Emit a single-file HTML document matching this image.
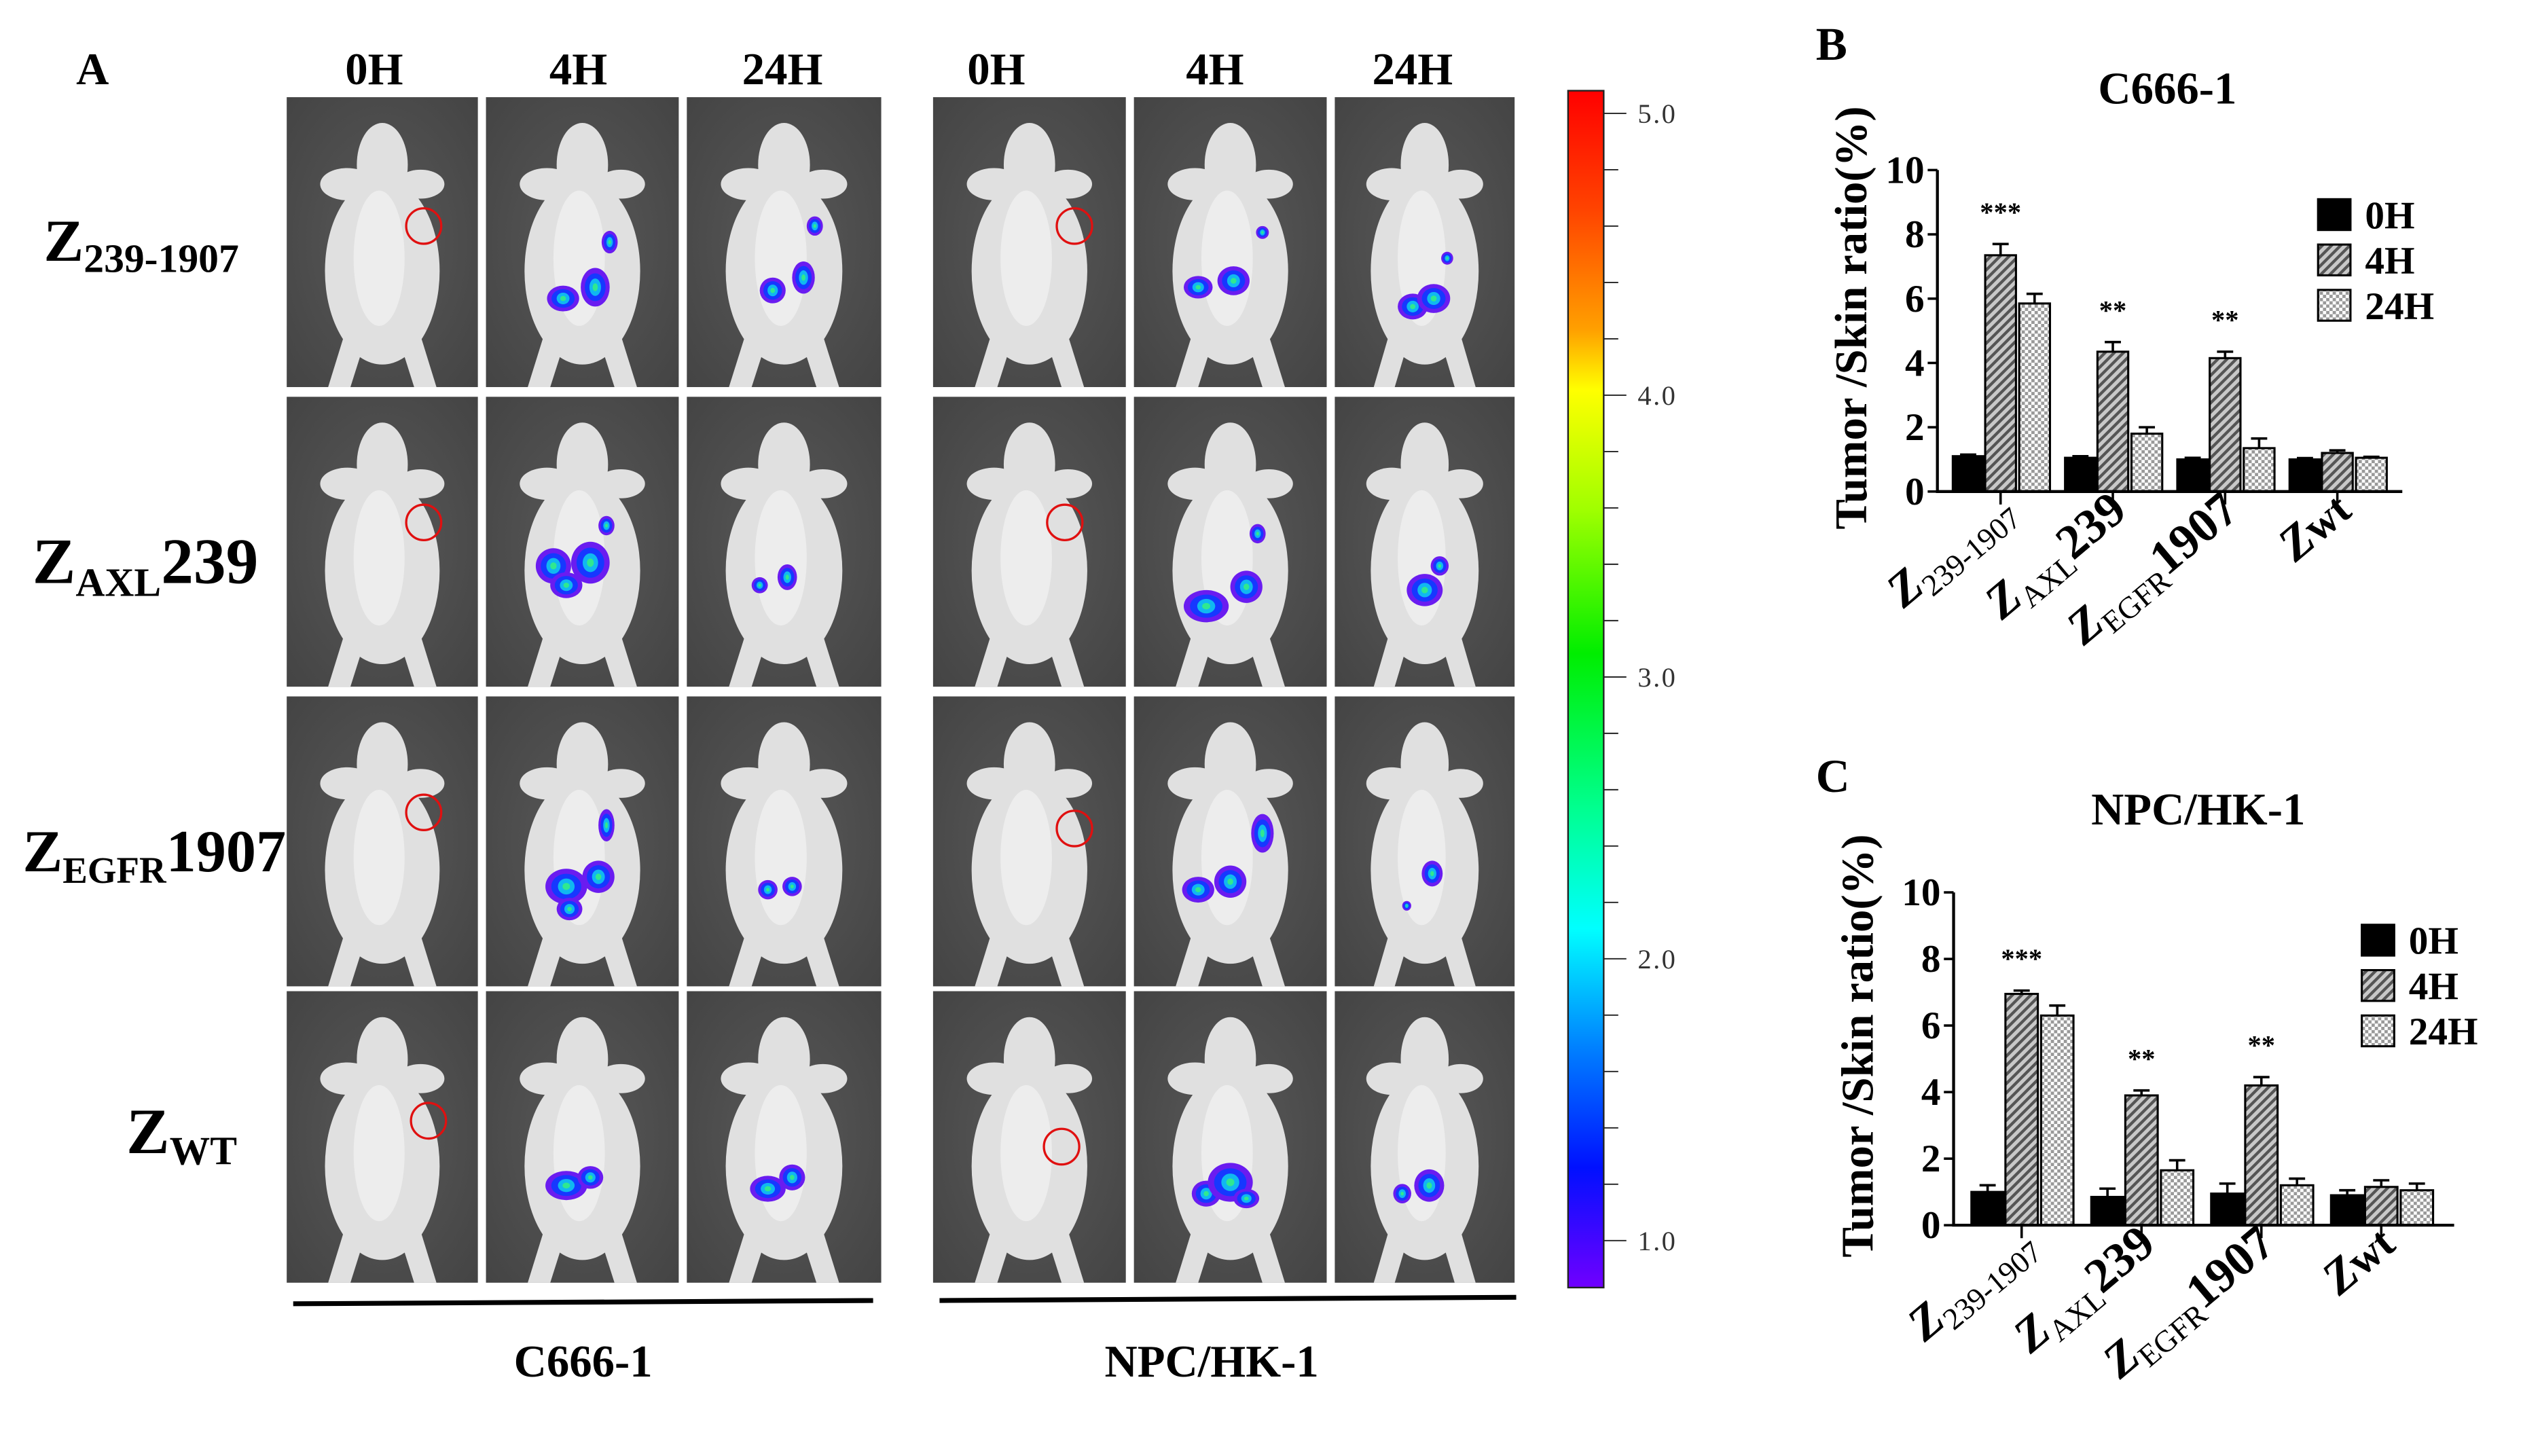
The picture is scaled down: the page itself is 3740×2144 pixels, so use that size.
<!DOCTYPE html>
<html><head><meta charset="utf-8"><style>
html,body{margin:0;padding:0;background:#fff;}
svg{display:block;}
text{font-family:"Liberation Serif",serif;}
</style></head>
<body>
<svg id="fig" xmlns="http://www.w3.org/2000/svg" width="3740" height="2144" viewBox="0 0 1568 899" preserveAspectRatio="none">
<defs>
<linearGradient id="cbar" x1="0" y1="0" x2="0" y2="1">
<stop offset="0" stop-color="#ff0000"/><stop offset="0.1" stop-color="#ff4400"/>
<stop offset="0.2" stop-color="#ffa000"/><stop offset="0.25" stop-color="#ffff00"/>
<stop offset="0.35" stop-color="#a0ff00"/><stop offset="0.47" stop-color="#00ee00"/>
<stop offset="0.6" stop-color="#00ff90"/><stop offset="0.7" stop-color="#00ffff"/>
<stop offset="0.8" stop-color="#0080ff"/><stop offset="0.9" stop-color="#0010ff"/>
<stop offset="1" stop-color="#7000ff"/></linearGradient>
<pattern id="hatch" width="4" height="4" patternUnits="userSpaceOnUse" patternTransform="rotate(45)">
<rect width="4" height="4" fill="#c8c8c8"/><rect width="1.8" height="4" fill="#555"/></pattern>
<pattern id="check" width="4" height="4" patternUnits="userSpaceOnUse">
<rect width="4" height="4" fill="#fff"/><rect width="2" height="2" fill="#999"/><rect x="2" y="2" width="2" height="2" fill="#999"/></pattern>
<radialGradient id="bg" cx="0.5" cy="0.5" r="0.7"><stop offset="0" stop-color="#585858"/><stop offset="1" stop-color="#444"/></radialGradient>
</defs>

<text x="47" y="52" font-size="28" font-weight="bold">A</text>
<g font-size="28" font-weight="bold" text-anchor="middle">
<text x="231" y="52">0H</text><text x="357" y="52">4H</text><text x="483" y="52">24H</text>
<text x="615" y="52">0H</text><text x="750" y="52">4H</text><text x="872" y="52">24H</text>
</g>
<g font-weight="bold">
<text x="27" y="161" font-size="37">Z<tspan font-size="25" dy="7">239-1907</tspan></text>
<text x="20" y="360" font-size="40">Z<tspan font-size="25" dy="8">AXL</tspan><tspan dy="-8">239</tspan></text>
<text x="14" y="538" font-size="37">Z<tspan font-size="23" dy="7">EGFR</tspan><tspan dy="-7">1907</tspan></text>
<text x="78" y="712" font-size="40">Z<tspan font-size="25" dy="7">WT</tspan></text>
</g>
<g id="panels"></g>
<line x1="181" y1="805" x2="539" y2="803" stroke="#000" stroke-width="3"/>
<line x1="580" y1="803" x2="936" y2="801" stroke="#000" stroke-width="3"/>
<text x="360" y="850" font-size="28" font-weight="bold" text-anchor="middle">C666-1</text>
<text x="748" y="850" font-size="28" font-weight="bold" text-anchor="middle">NPC/HK-1</text>

<g>
<rect x="968" y="56" width="22" height="739" fill="url(#cbar)" stroke="#222" stroke-width="1"/>
<g id="cticks"></g>
</g>

<g id="chartB"></g>
<g id="chartC"></g>
</svg>
<script>
// ---- chart data ----
const categories = ["239-1907","AXL239","EGFR1907","wt"];
const seriesNames = ["0H","4H","24H"];
const yTicks = [0,2,4,6,8,10];
const b0H = [1.1,1.05,1.0,1.0];
const b4H = [7.35,4.35,4.15,1.2];
const b24H = [5.85,1.8,1.35,1.05];
const b0Herr = [0.05,0.05,0.05,0.04];
const b4Herr = [0.35,0.3,0.2,0.08];
const b24Herr = [0.3,0.2,0.3,0.03];
const bStars = ["***","**","**",""];
const c0H = [1.0,0.85,0.95,0.9];
const c4H = [6.95,3.9,4.2,1.15];
const c24H = [6.3,1.65,1.2,1.05];
const c0Herr = [0.2,0.25,0.3,0.15];
const c4Herr = [0.1,0.15,0.25,0.2];
const c24Herr = [0.3,0.3,0.2,0.2];
const cStars = ["***","**","**",""];
const colorTicks = [5.0,4.0,3.0,2.0,1.0];

const NS="http://www.w3.org/2000/svg";
function mk(tag,attrs,parent){const e=document.createElementNS(NS,tag);for(const k in attrs)e.setAttribute(k,attrs[k]);if(parent)parent.appendChild(e);return e;}

// ---- colour bar ticks ----
(function(){
  const g=document.getElementById('cticks');
  const yOf=v=>70+(5-v)*(766-70)/4;
  for(let i=0;i<=20;i++){const v=5-i*0.2;const major=i%5===0;
    const l=mk('line',{x1:990,x2:major?1004:999,y1:yOf(v),y2:yOf(v),stroke:'#222','stroke-width':0.8},g);
    
    }
  colorTicks.forEach(v=>{const t=mk('text',{x:1011,y:yOf(v)+6,'font-size':17,fill:'#333','font-family':'Liberation Sans, sans-serif','letter-spacing':'1'},g);
    
    
    t.textContent=v.toFixed(1);});
})();

// ---- imaging panels ----
(function(){
  const g=document.getElementById('panels');
  const cols=[[177,118],[300,119],[424,120],[576,119],[700,119],[824,111]];
  const rows=[[60,179],[245,179],[430,179],[612,180]];
  const circ={"0-0":[86,80],"0-3":[88,80],"1-0":[86,78],"1-3":[82,78],"2-0":[86,72],"2-3":[88,82],"3-0":[89,80],"3-3":[80,96]};
  const blobs={
   "0-1":[[48,125,10,8],[68,118,9,12],[77,90,5,7]],"0-2":[[53,120,8,8],[72,112,7,10],[79,80,5,6]],
   "0-4":[[40,118,9,7],[62,114,10,9],[80,84,4,4]],"0-5":[[52,130,10,8],[66,125,11,9],[75,100,4,4]],
   "1-1":[[42,105,11,11],[65,103,12,13],[75,80,5,6],[50,117,10,8]],"1-2":[[45,117,5,5],[62,112,6,8]],
   "1-4":[[45,130,14,10],[70,118,10,10],[77,85,5,6]],"1-5":[[60,120,12,10],[70,105,6,6]],
   "2-1":[[50,118,13,11],[70,112,10,10],[75,80,5,10],[52,132,8,7]],"2-2":[[50,120,6,6],[65,118,6,6]],
   "2-4":[[40,120,10,8],[60,115,10,10],[80,85,7,12]],"2-5":[[48,130,3,3],[65,110,7,8]],
   "3-1":[[50,120,13,9],[65,115,8,7]],"3-2":[[50,122,11,8],[65,115,8,8]],
   "3-4":[[45,125,9,8],[60,118,14,12],[70,128,8,6]],"3-5":[[45,125,6,6],[63,120,10,10]]};
  rows.forEach((r,ri)=>cols.forEach((c,ci)=>{
    const p=mk('g',{transform:`translate(${c[0]},${r[0]})`},g);
    
    
    mk('rect',{x:0,y:0,width:c[1],height:r[1],fill:'url(#bg)'},p);
    const sx=c[1]/120, sy=r[1]/180;
    const m=mk('g',{transform:`scale(${sx},${sy})`,fill:'#e0e0e0'},p);
    mk('ellipse',{cx:60,cy:42,rx:16,ry:26},m);
    mk('ellipse',{cx:38,cy:54,rx:17,ry:10},m);
    mk('ellipse',{cx:84,cy:54,rx:15,ry:9},m);
    mk('ellipse',{cx:60,cy:108,rx:36,ry:58},m);
    mk('polygon',{points:'36,148 26,180 40,180 48,155'},m);
    mk('polygon',{points:'84,148 94,180 80,180 72,155'},m);
    mk('ellipse',{cx:58,cy:100,rx:16,ry:42,fill:'#ededed'},m);
    const key=ri+'-'+ci;
    if(circ[key]){mk('ellipse',{cx:circ[key][0],cy:circ[key][1],rx:11,ry:11,fill:'none',stroke:'#e01010','stroke-width':1.4},m);}
    (blobs[key]||[]).forEach(b=>{
      mk('ellipse',{cx:b[0],cy:b[1],rx:b[2],ry:b[3],fill:'#6a1cf0'},m);
      mk('ellipse',{cx:b[0],cy:b[1],rx:b[2]*0.72,ry:b[3]*0.72,fill:'#1638ff'},m);
      mk('ellipse',{cx:b[0],cy:b[1],rx:b[2]*0.4,ry:b[3]*0.45,fill:'#10b8f0'},m);
      mk('ellipse',{cx:b[0],cy:b[1],rx:b[2]*0.18,ry:b[3]*0.2,fill:'#30e890'},m);
    });
  }));
})();

// ---- bar charts ----
function drawChart(gid,cfg){
  const g=document.getElementById(gid);
  const x0=cfg.x0,x1=cfg.x1,y0=cfg.y0,y10=cfg.y10;
  const yS=v=>y0-(v/10)*(y0-y10);
  const xS=i=>cfg.t0+i*cfg.dt;
  const bw=cfg.bw;
  const lab=mk('text',{x:cfg.lx,y:cfg.ly,'font-size':29,'font-weight':'bold'},g);
  
  
  lab.textContent=cfg.label;
  const ti=mk('text',{x:cfg.tx,y:cfg.ty,'font-size':28,'font-weight':'bold','text-anchor':'middle'},g);
  
  
  ti.textContent=cfg.title;
  const yt=mk('text',{transform:`translate(${cfg.yx},${(y0+y10)/2-8}) rotate(-90)`,'font-size':28,'font-weight':'bold','text-anchor':'middle'},g);
  
  
  yt.textContent='Tumor /Skin ratio(%)';
  const fills=['#000','url(#hatch)','url(#check)'];
  const series=[cfg.s0,cfg.s1,cfg.s2], errs=[cfg.e0,cfg.e1,cfg.e2];
  const offs=[-bw*1.5-1,-bw*0.5,bw*0.5+2];
  categories.forEach((c,i)=>{
    series.forEach((s,k)=>{
      const bx=xS(i)+offs[k], top=yS(s[i]), et=yS(s[i]+errs[k][i]);
      const eb=mk('line',{x1:bx+bw/2,x2:bx+bw/2,y1:top,y2:et,stroke:'#000','stroke-width':1.5},g);
      
      
      const ec=mk('line',{x1:bx+bw/2-5,x2:bx+bw/2+5,y1:et,y2:et,stroke:'#000','stroke-width':1.5},g);
      
      
      const r=mk('rect',{x:bx,y:top,width:bw,height:y0-top,fill:fills[k],stroke:'#000','stroke-width':1.3},g);
      
      
    });
    if(cfg.stars[i]){const st=mk('text',{x:xS(i),y:yS(cfg.s1[i]+cfg.e1[i])-14,'font-size':17,'text-anchor':'middle','font-weight':'bold'},g);
      
      
      st.textContent=cfg.stars[i];}
    const tk=mk('line',{x1:xS(i),x2:xS(i),y1:y0,y2:y0+8,stroke:'#000','stroke-width':1.5},g);
    
    
    const xl=mk('text',{transform:`translate(${xS(i)+10},${y0+14}) rotate(-40)`,'text-anchor':'end','font-size':30,'font-weight':'bold'},g);
    
    
    if(c==='239-1907') xl.innerHTML='<tspan font-style="italic">Z</tspan><tspan font-size="19" font-weight="normal" dy="6">239-1907</tspan>';
    else if(c==='AXL239') xl.innerHTML='<tspan font-style="italic">Z</tspan><tspan font-size="19" font-weight="normal" dy="6">AXL</tspan><tspan dy="-6">239</tspan>';
    else if(c==='EGFR1907') xl.innerHTML='<tspan font-style="italic">Z</tspan><tspan font-size="19" font-weight="normal" dy="6">EGFR</tspan><tspan dy="-6">1907</tspan>';
    else xl.innerHTML='<tspan font-style="italic">Z</tspan><tspan font-size="27">wt</tspan>';
  });
  const ax=mk('path',{d:`M${x0},${y10} L${x0},${y0} L${x1},${y0}`,fill:'none',stroke:'#000','stroke-width':1.8},g);
  
  
  yTicks.forEach(v=>{
    const l=mk('line',{x1:x0-6,x2:x0,y1:yS(v),y2:yS(v),stroke:'#000','stroke-width':1.5},g);
    
    
    const t=mk('text',{x:x0-8,y:yS(v)+8,'font-size':24,'font-weight':'bold','text-anchor':'end'},g);
    
    
    t.textContent=v;
  });
  seriesNames.forEach((n,k)=>{
    const ly=cfg.legY+k*cfg.legDy;
    const r=mk('rect',{x:cfg.legX,y:ly,width:20,height:19,fill:fills[k],stroke:'#000','stroke-width':1.3},g);
    
    
    const t=mk('text',{x:cfg.legX+29,y:ly+18,'font-size':24,'font-weight':'bold'},g);
    
    
    t.textContent=n;
  });
}
drawChart('chartB',{label:'B',lx:1121,ly:37,title:'C666-1',tx:1338,ty:64,yx:1152,
  x0:1196,x1:1483,y0:303.5,y10:105,t0:1235,dt:69.3,bw:19,
  s0:b0H,s1:b4H,s2:b24H,e0:b0Herr,e1:b4Herr,e2:b24Herr,stars:bStars,legX:1431,legY:123,legDy:28});
drawChart('chartC',{label:'C',lx:1121,ly:489,title:'NPC/HK-1',tx:1357,ty:509,yx:1156,
  x0:1206,x1:1515,y0:756.5,y10:551,t0:1248,dt:74,bw:20,
  s0:c0H,s1:c4H,s2:c24H,e0:c0Herr,e1:c4Herr,e2:c24Herr,stars:cStars,legX:1458,legY:571,legDy:28});
</script>
</body></html>
